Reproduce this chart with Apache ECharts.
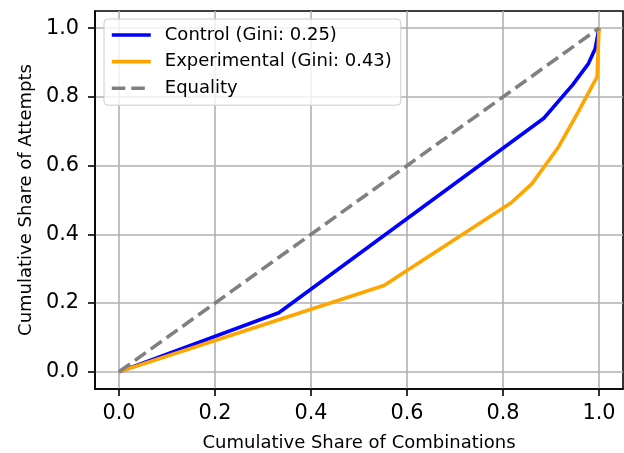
<!DOCTYPE html>
<html>
<head>
<meta charset="utf-8">
<script src="https://cdn.jsdelivr.net/npm/echarts@6/dist/echarts.min.js"></script>
<style>html,body{margin:0;padding:0;background:#fff}#c{width:624px;height:453px}</style>
</head>
<body>
<div id="c"></div>
<script>
var tickValues = [0, 0.2, 0.4, 0.6, 0.8, 1.0];
var controlX = [0, 0.333, 0.885, 0.945, 0.978, 0.992, 1.0];
var controlY = [0, 0.172, 0.738, 0.835, 0.897, 0.94, 1.0];
var expX = [0, 0.552, 0.817, 0.86, 0.916, 0.957, 0.985, 0.996, 1.0];
var expY = [0, 0.251, 0.492, 0.547, 0.655, 0.757, 0.83, 0.858, 1.0];
var eqX = [0, 1];
var eqY = [0, 1];
var names = ['Control (Gini: 0.25)', 'Experimental (Gini: 0.43)', 'Equality'];

function pairs(xs, ys) { return xs.map(function (x, i) { return [x, ys[i]]; }); }

var FONT = 'DejaVu Sans';
var LW = 3.6;
var chart = echarts.init(document.getElementById('c'), null, {renderer: 'canvas'});
function axisCommon(name, gap, rotate) {
  return {
    type: 'value', min: -0.05, max: 1.05,
    name: name, nameLocation: 'middle', nameGap: gap, nameRotate: rotate,
    nameTextStyle: {fontFamily: FONT, fontSize: 18, color: '#000'},
    axisLine: {show: true, onZero: false, lineStyle: {color: '#000', width: 1.6}},
    axisTick: {show: true, inside: false, length: 7, lineStyle: {color: '#000', width: 1.6}, customValues: tickValues},
    axisLabel: {fontFamily: FONT, fontSize: 20.8, color: '#000', customValues: tickValues,
      formatter: function (v) { return v.toFixed(1); }},
    splitLine: {show: true, lineStyle: {color: '#b0b0b0', width: 1.6}}
  };
}
var xA = axisCommon('Cumulative Share of Combinations', 45, 0);
xA.axisLabel.margin = 14;
var yA = axisCommon('Cumulative Share of Attempts', 60, 90);
yA.axisLabel.margin = 16;

chart.setOption({
  animation: false,
  backgroundColor: '#fff',
  grid: {left: 95, top: 11, width: 528, height: 378, containLabel: false, outerBoundsMode: 'none',
    show: true, borderColor: '#000', borderWidth: 1.6, backgroundColor: 'transparent'},
  xAxis: xA,
  yAxis: yA,
  legend: {
    orient: 'vertical', left: 104, top: 19,
    data: names,
    itemWidth: 39, itemHeight: 18, itemGap: 8.6,
    padding: [7, 9, 8, 6],
    itemStyle: {opacity: 0, borderWidth: 0},
    lineStyle: {width: LW},
    backgroundColor: 'rgba(255,255,255,0.8)', borderColor: '#cccccc', borderWidth: 1, borderRadius: 4,
    textStyle: {fontFamily: FONT, fontSize: 18, color: '#000', padding: [0, 0, 0, 9]}
  },
  series: [
    {name: names[0], type: 'line', data: pairs(controlX, controlY), symbol: 'none',
      lineStyle: {color: '#0000ff', width: LW}, itemStyle: {color: '#0000ff'}, z: 3},
    {name: names[1], type: 'line', data: pairs(expX, expY), symbol: 'none',
      lineStyle: {color: '#ffa500', width: LW}, itemStyle: {color: '#ffa500'}, z: 3},
    {name: names[2], type: 'line', data: pairs(eqX, eqY), symbol: 'none',
      lineStyle: {color: '#808080', width: LW, type: [13.5, 6]}, itemStyle: {color: '#808080'}, z: 3}
  ]
});
</script>
</body>
</html>
